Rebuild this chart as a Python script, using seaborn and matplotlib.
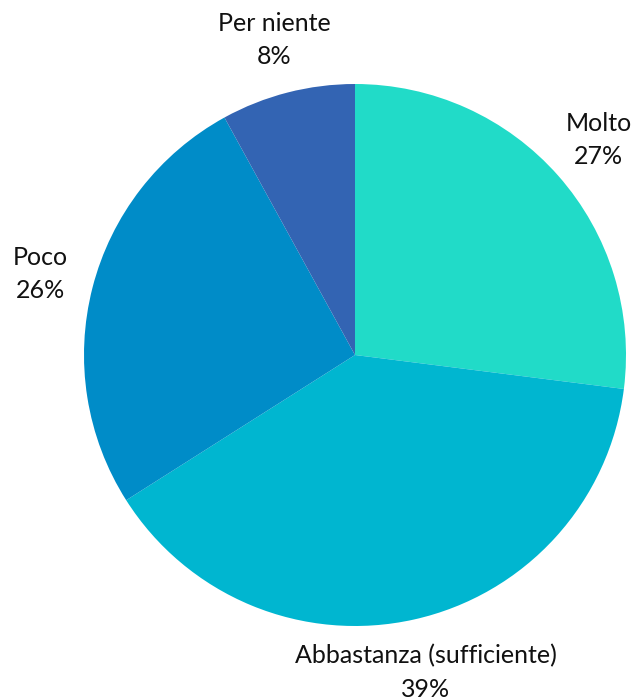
import matplotlib
matplotlib.use("Agg")
import matplotlib.pyplot as plt
import seaborn as sns
import numpy as np

categories = ["Molto", "Abbastanza (sufficiente)", "Poco", "Per niente"]
values = [27, 39, 26, 8]
colors = ["#21DBC8", "#00B6D0", "#008CC8", "#3364B3"]

sns.set_theme(style="white")
plt.rcParams['font.family'] = ['Lato', 'DejaVu Sans']

W, H = 633, 700
fig = plt.figure(figsize=(W / 100, H / 100), dpi=100)
cx, cy, r = 355, 355, 271
ax = fig.add_axes([(cx - r) / W, (H - cy - r) / H, 2 * r / W, 2 * r / H])

palette = sns.color_palette(colors)
wedges, _ = ax.pie(values, colors=palette, startangle=90, counterclock=False,
                   radius=1.0, wedgeprops=dict(linewidth=0))
ax.set_xlim(-1, 1)
ax.set_ylim(-1, 1)
ax.set_aspect("equal")
ax.axis("off")

total = sum(values)
start = 90.0
for cat, v in zip(categories, values):
    span = 360.0 * v / total
    mid = np.deg2rad(start - span / 2)
    start -= span
    x, y = 1.2 * np.cos(mid), 1.2 * np.sin(mid)
    ax.text(x, y, f"{cat}\n{v}%", ha="center", va="center", fontsize=18,
            color="#111111", linespacing=1.55, clip_on=False)

fig.savefig("out.png", dpi=100)
